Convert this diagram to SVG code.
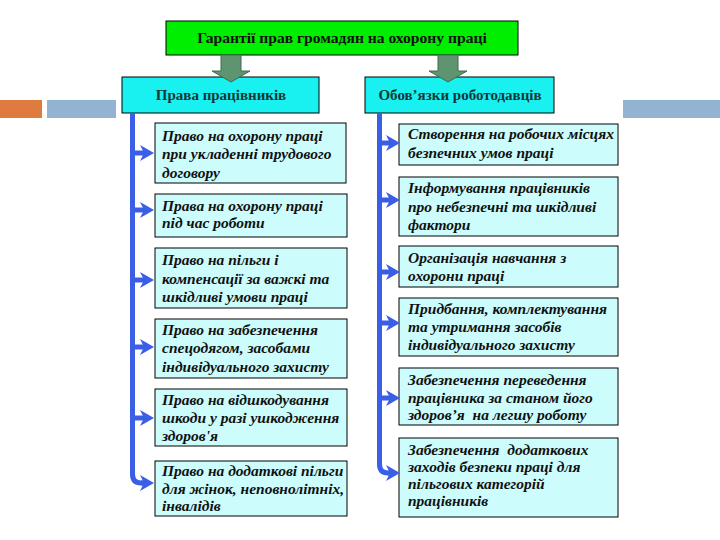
<svg xmlns="http://www.w3.org/2000/svg" width="720" height="540" viewBox="0 0 720 540">
<style>
.bar{stroke:none}
.title{fill:#00ee00;stroke:#000;stroke-width:1}
.head{fill:#19f0f0;stroke:#000;stroke-width:1}
.box{fill:#ccfcfc;stroke:#000;stroke-width:1}
.ttl{font-family:"Liberation Serif","DejaVu Serif",serif;font-weight:bold;font-size:15.6px;fill:#111}
.hd{font-family:"Liberation Serif","DejaVu Serif",serif;font-weight:bold;font-size:15px;fill:#163636}
.t{font-family:"Liberation Serif","DejaVu Serif",serif;font-weight:bold;font-style:italic;font-size:15.5px;fill:#111}
.ga{fill:#5f9470;stroke:#3f6a50;stroke-width:1}
.vl{fill:none;stroke:#3a5ee6;stroke-width:5}
.ar{fill:none;stroke:#3a5ee6;stroke-width:5;marker-end:url(#ah)}
</style>
<defs>
<marker id="ah" viewBox="0 0 14 16" refX="4" refY="8" markerWidth="14" markerHeight="16" markerUnits="userSpaceOnUse" orient="auto">
<path d="M0,0 L14,8 L0,16 L4,8 z" fill="#3a5ee6"/>
</marker>
</defs>
<rect width="720" height="540" fill="#fff"/>
<g id="decor">
<rect class="bar" x="0" y="100" width="42" height="18" fill="#e07b3f"/>
<rect class="bar" x="47" y="100" width="69" height="18" fill="#93b3d3"/>
<rect class="bar" x="623" y="100" width="97" height="18" fill="#93b3d3"/>
</g>
<g id="title">
<rect class="title" x="166" y="21" width="352" height="34"/>
<text class="ttl" x="342" y="43" text-anchor="middle">Гарантії прав громадян на охорону праці</text>
</g>
<g id="head-left">
<rect class="head" x="122" y="77" width="197" height="36"/>
<text class="hd" x="221" y="100" text-anchor="middle">Права працівників</text>
</g>
<g id="head-right">
<rect class="head" x="365" y="77" width="189" height="36"/>
<text class="hd" x="460" y="100" text-anchor="middle">Обов’язки роботодавців</text>
</g>
<g id="l1"><rect class="box" x="155" y="123" width="191" height="60"/>
<text class="t" x="162" y="141">Право на охорону праці</text><text class="t" x="162" y="159">при укладенні трудового</text><text class="t" x="162" y="178">договору</text></g>
<g id="l2"><rect class="box" x="155" y="194" width="192" height="43"/>
<text class="t" x="162" y="211">Права на охорону праці</text><text class="t" x="162" y="228">під час роботи</text></g>
<g id="l3"><rect class="box" x="155" y="248" width="192" height="60"/>
<text class="t" x="162" y="265">Право на пільги і</text><text class="t" x="162" y="284">компенсації за важкі та</text><text class="t" x="162" y="302">шкідливі умови праці</text></g>
<g id="l4"><rect class="box" x="155" y="319" width="192" height="59"/>
<text class="t" x="162" y="335">Право на забезпечення</text><text class="t" x="162" y="353">спецодягом, засобами</text><text class="t" x="162" y="372">індивідуального захисту</text></g>
<g id="l5"><rect class="box" x="155" y="389" width="192" height="57"/>
<text class="t" x="162" y="405">Право на відшкодування</text><text class="t" x="162" y="423">шкоди у разі ушкодження</text><text class="t" x="162" y="441">здоров'я</text></g>
<g id="l6"><rect class="box" x="155" y="461" width="192" height="55"/>
<text class="t" x="162" y="476">Право на додаткові пільги</text><text class="t" x="162" y="494">для жінок, неповнолітніх,</text><text class="t" x="162" y="511">інвалідів</text></g>
<g id="r1"><rect class="box" x="399" y="124" width="219" height="41"/>
<text class="t" x="408" y="139">Створення на робочих місцях</text><text class="t" x="408" y="158">безпечних умов праці</text></g>
<g id="r2"><rect class="box" x="399" y="177" width="219" height="59"/>
<text class="t" x="408" y="193">Інформування працівників</text><text class="t" x="408" y="212">про небезпечні та шкідливі</text><text class="t" x="408" y="230">фактори</text></g>
<g id="r3"><rect class="box" x="399" y="246" width="219" height="41"/>
<text class="t" x="408" y="263">Організація навчання з</text><text class="t" x="408" y="281">охорони праці</text></g>
<g id="r4"><rect class="box" x="399" y="298" width="219" height="58"/>
<text class="t" x="408" y="314">Придбання, комплектування</text><text class="t" x="408" y="332">та утримання засобів</text><text class="t" x="408" y="350">індивідуального захисту</text></g>
<g id="r5"><rect class="box" x="399" y="368" width="219" height="57"/>
<text class="t" x="408" y="385">Забезпечення переведення</text><text class="t" x="408" y="403">працівника за станом його</text><text class="t" x="408" y="420" xml:space="preserve">здоров’я  на легшу роботу</text></g>
<g id="r6"><rect class="box" x="399" y="438" width="219" height="79"/>
<text class="t" x="408" y="455" xml:space="preserve">Забезпечення  додаткових</text><text class="t" x="408" y="472">заходів безпеки праці для</text><text class="t" x="408" y="489">пільгових категорій</text><text class="t" x="408" y="506">працівників</text></g>
<g id="connectors">
<path class="ga" d="M221,55 H241 V71 H250 L231,82 L212,71 H221 Z"/>
<path class="ga" d="M438,55 H458 V71 H467 L448,82 L429,71 H438 Z"/>
<path class="vl" d="M132.5,113 V474 Q132.5,483 141,483 H144"/>
<path class="ar" d="M141,483 H144"/>
<path class="ar" d="M132,153 H144"/>
<path class="ar" d="M132,210 H144"/>
<path class="ar" d="M132,280 H144"/>
<path class="ar" d="M132,347 H144"/>
<path class="ar" d="M132,418 H144"/>
<path class="vl" d="M379.5,113 V464 Q379.5,473 388,473 H390"/>
<path class="ar" d="M388,473 H390"/>
<path class="ar" d="M379,143 H390"/>
<path class="ar" d="M379,200 H390"/>
<path class="ar" d="M379,272 H390"/>
<path class="ar" d="M379,323 H390"/>
<path class="ar" d="M379,398 H390"/>
</g>
</svg>
